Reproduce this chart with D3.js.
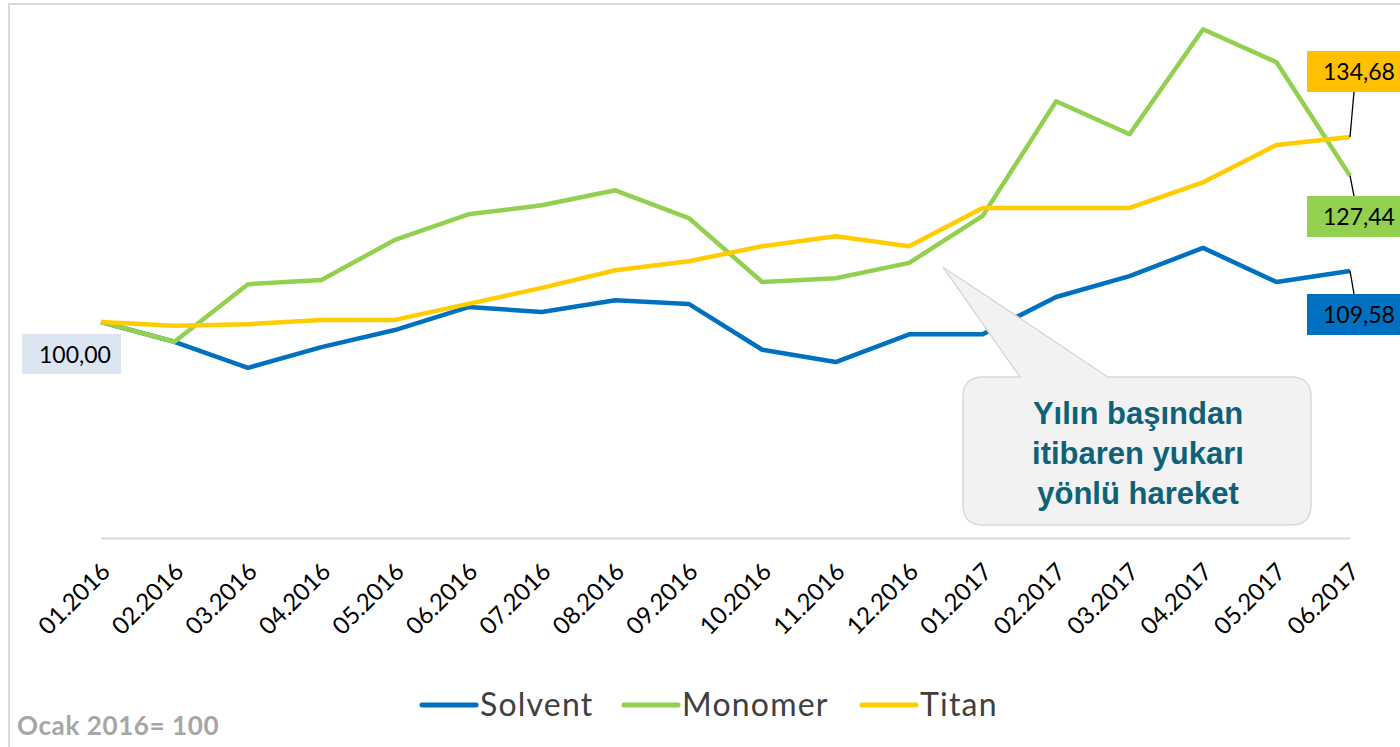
<!DOCTYPE html>
<html lang="tr">
<head>
<meta charset="UTF-8">
<title>Solvent, Monomer, Titan</title>
<style>
  body { margin: 0; background: #fff; }
  svg { display: block; }
  .lbl { font-family: Lato, "Open Sans", sans-serif; }
  .x-axis text { font-family: Lato, "Open Sans", sans-serif; font-size: 24px; fill: #000; }
  .x-axis path.domain { stroke: #d9d9d9; stroke-width: 2; }
  .x-axis line { display: none; }
</style>
<script src="https://d3js.org/d3.v7.min.js"></script>
</head>
<body>
<script>
var months = ["01.2016","02.2016","03.2016","04.2016","05.2016","06.2016","07.2016","08.2016","09.2016",
              "10.2016","11.2016","12.2016","01.2017","02.2017","03.2017","04.2017","05.2017","06.2017"];

var solvent = [100, 96.3, 91.4, 95.3, 98.5, 102.8, 101.9, 104.1, 103.4, 94.8, 92.5, 97.7, 97.7, 104.7, 108.6, 113.9, 107.5, 109.58];
var monomer = [100, 96.3, 107.1, 107.9, 115.4, 120.2, 121.9, 124.7, 119.5, 107.5, 108.2, 111.1, 119.9, 141.4, 135.2, 154.9, 148.7, 127.44];
var titan   = [100, 99.3, 99.6, 100.4, 100.4, 103.4, 106.4, 109.7, 111.4, 114.2, 116.1, 114.2, 121.4, 121.4, 121.4, 126.2, 133.2, 134.68];

var seriesNames = ["Solvent", "Monomer", "Titan"];
var seriesColors = ["#0070c0", "#92d050", "#ffcc00"];
var labelColors = ["#0070c0", "#92d050", "#ffc000"];
var calloutLines = ["Yılın başından", "itibaren yukarı", "yönlü hareket"];
var note = "Ocak 2016= 100";

var w = 1400, h = 747;

var svg = d3.select("body").append("svg")
  .attr("width", w).attr("height", h);

// chart frame
svg.append("path")
  .attr("d", "M9,747V4H1400")
  .attr("fill", "none")
  .attr("stroke", "#d9d9d9")
  .attr("stroke-width", 2);

var x = d3.scalePoint().domain(months).range([101, 1350]);
var y = d3.scaleLinear().domain([60, 160]).range([535.4, 2]);

// x axis
var xAxis = svg.append("g")
  .attr("class", "x-axis")
  .attr("transform", "translate(0," + 538 + ")")
  .call(d3.axisBottom(x).tickSize(0).tickSizeOuter(0));

xAxis.selectAll("text")
  .attr("text-anchor", "end")
  .attr("dx", 0).attr("dy", 0)
  .attr("transform", "translate(8,33) rotate(-45)");

// lines
var data = [solvent, monomer, titan];
var line = d3.line()
  .x(function(d, i) { return x(months[i]); })
  .y(function(d) { return y(d); });

svg.append("g").selectAll("path")
  .data(data).enter()
  .append("path")
  .attr("d", line)
  .attr("fill", "none")
  .attr("stroke", function(d, i) { return seriesColors[i]; })
  .attr("stroke-width", 4.5)
  .attr("stroke-linejoin", "round");

// data labels
var last = months[months.length - 1];
var endLabels = [
  { v: solvent[17], color: labelColors[0], boxY: 294 },
  { v: monomer[17], color: labelColors[1], boxY: 196 },
  { v: titan[17],   color: labelColors[2], boxY: 51 }
];

function fmt(v) { return v.toFixed(2).replace(".", ","); }

endLabels.forEach(function(l) {
  var px = x(last), py = y(l.v);
  var ly = l.boxY < py ? l.boxY + 41 : l.boxY;
  svg.append("line")
    .attr("x1", px).attr("y1", py)
    .attr("x2", px + 4).attr("y2", ly)
    .attr("stroke", "#000").attr("stroke-width", 1.3);
  svg.append("rect")
    .attr("x", 1307).attr("y", l.boxY)
    .attr("width", 93).attr("height", 41)
    .attr("fill", l.color);
  svg.append("text")
    .attr("class", "lbl")
    .attr("x", 1359).attr("y", l.boxY + 29)
    .attr("text-anchor", "middle")
    .attr("font-size", 23)
    .attr("fill", "#000")
    .text(fmt(l.v));
});

// start label
svg.append("rect")
  .attr("x", 22).attr("y", 334)
  .attr("width", 99).attr("height", 40)
  .attr("fill", "#dce6f2");
svg.append("text")
  .attr("class", "lbl")
  .attr("x", 75).attr("y", 363)
  .attr("text-anchor", "middle")
  .attr("font-size", 23)
  .attr("fill", "#000")
  .text(fmt(solvent[0]));

// callout
var cx0 = 963, cy0 = 377, cx1 = 1311, cy1 = 525, r = 20;
var tipX = 943, tipY = 267;
var callout = "M" + (cx0 + r) + "," + cy0 +
  "L" + 1020 + "," + cy0 +
  "L" + tipX + "," + tipY +
  "L" + 1108 + "," + cy0 +
  "L" + (cx1 - r) + "," + cy0 +
  "Q" + cx1 + "," + cy0 + " " + cx1 + "," + (cy0 + r) +
  "L" + cx1 + "," + (cy1 - r) +
  "Q" + cx1 + "," + cy1 + " " + (cx1 - r) + "," + cy1 +
  "L" + (cx0 + r) + "," + cy1 +
  "Q" + cx0 + "," + cy1 + " " + cx0 + "," + (cy1 - r) +
  "L" + cx0 + "," + (cy0 + r) +
  "Q" + cx0 + "," + cy0 + " " + (cx0 + r) + "," + cy0 + "Z";
svg.append("path")
  .attr("d", callout)
  .attr("fill", "#f2f2f2")
  .attr("stroke", "#d9d9d9")
  .attr("stroke-width", 1.5);

svg.append("g").selectAll("text")
  .data(calloutLines).enter()
  .append("text")
  .attr("x", 1138)
  .attr("y", function(d, i) { return 424 + i * 40; })
  .attr("text-anchor", "middle")
  .attr("font-family", "Liberation Sans, Arial, sans-serif")
  .attr("font-weight", "bold")
  .attr("font-size", 31)
  .attr("fill", "#0e6177")
  .text(function(d) { return d; });

// legend
var legendX = [422, 624, 862];
var legend = svg.append("g").selectAll("g")
  .data(seriesNames).enter()
  .append("g")
  .attr("transform", function(d, i) { return "translate(" + legendX[i] + ",705)"; });
legend.append("line")
  .attr("x1", 0).attr("x2", 54)
  .attr("stroke", function(d, i) { return seriesColors[i]; })
  .attr("stroke-width", 5)
  .attr("stroke-linecap", "round");
legend.append("text")
  .attr("class", "lbl")
  .attr("x", 58).attr("y", 11)
  .attr("font-size", 32)
  .attr("letter-spacing", 1.2)
  .attr("fill", "#404040")
  .text(function(d) { return d; });

// note
svg.append("text")
  .attr("class", "lbl")
  .attr("x", 17).attr("y", 735)
  .attr("font-size", 26)
  .attr("font-weight", "bold")
  .attr("letter-spacing", 0.6)
  .attr("fill", "#a6a6a6")
  .text(note);
</script>
</body>
</html>
